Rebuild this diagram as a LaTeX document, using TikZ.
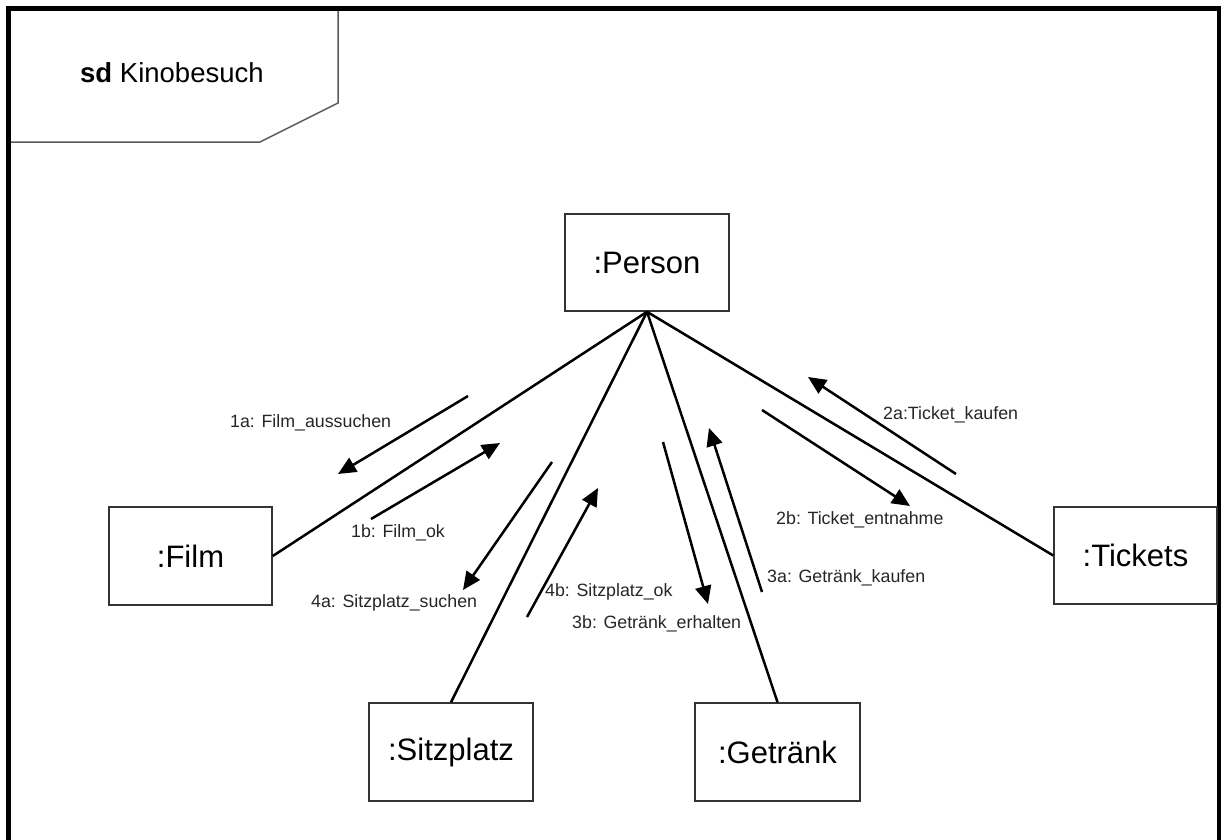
\documentclass[tikz,border=0pt]{standalone}
\usepackage{fontspec}
\setmainfont{Liberation Sans}
\usetikzlibrary{arrows.meta}
\begin{document}
\begin{tikzpicture}[x=1pt,y=-1pt,
  obj/.style={draw=black!80, line width=1.6pt, fill=white, inner sep=0pt,
    font=\fontsize{31}{37}\selectfont},
  assoc/.style={line width=2.5pt, black},
  msg/.style={line width=2.5pt, black, -{Triangle[length=18pt,width=16pt]}},
  lbl/.style={anchor=west, inner sep=0pt, text=black!85,
    font=\fontsize{17.8}{21}\selectfont},
]
\useasboundingbox (0,0) rectangle (1221,839);
\begin{scope}
\clip (0,0) rectangle (1221,839);
% diagram frame and its name tag
\draw[line width=5pt] (8.5,8.5) rectangle (1219.5,860);
\draw[line width=1.5pt, black!65] (11,142) -- (260,142) -- (338,103) -- (338,11);
\node[anchor=west, inner sep=0pt, font=\fontsize{27.5}{32}\selectfont] (title) at (80,73) {\textbf{sd} Kinobesuch};

% lifeline objects
\node[obj, minimum width=164pt, minimum height=97pt] (person)    at (647,262.5) {:Person};
\node[obj, minimum width=163pt, minimum height=98pt] (film)      at (190.5,556) {:Film};
\node[obj, minimum width=163pt, minimum height=97pt] (tickets)   at (1135.5,555.5) {:Tickets};
\node[obj, minimum width=164pt, minimum height=98pt] (sitzplatz) at (451,752) {:Sitzplatz};
\node[obj, minimum width=165pt, minimum height=98pt] (getraenk)  at (777.5,752) {:Getränk};

% links
\draw[assoc] (person.south) -- (film.east);
\draw[assoc] (person.south) -- (sitzplatz.north);
\draw[assoc] (person.south) -- (getraenk.north);
\draw[assoc] (person.south) -- (tickets.west);

% message endpoints
\coordinate (m1a-s) at (468,396); \coordinate (m1a-e) at (338,474);
\coordinate (m1b-s) at (371,519); \coordinate (m1b-e) at (500,443);
\coordinate (m4a-s) at (552,462); \coordinate (m4a-e) at (463,590);
\coordinate (m4b-s) at (527,617); \coordinate (m4b-e) at (598,488);
\coordinate (m3b-s) at (663,442); \coordinate (m3b-e) at (708,604);
\coordinate (m3a-s) at (762,592); \coordinate (m3a-e) at (709,428);
\coordinate (m2a-s) at (956,474); \coordinate (m2a-e) at (808,377);
\coordinate (m2b-s) at (762,410); \coordinate (m2b-e) at (910,506);

% messages
\draw[msg] (m1a-s) -- (m1a-e);
\draw[msg] (m1b-s) -- (m1b-e);
\draw[msg] (m4a-s) -- (m4a-e);
\draw[msg] (m4b-s) -- (m4b-e);
\draw[msg] (m3b-s) -- (m3b-e);
\draw[msg] (m3a-s) -- (m3a-e);
\draw[msg] (m2a-s) -- (m2a-e);
\draw[msg] (m2b-s) -- (m2b-e);

% message labels
\node[lbl] (l1a) at (230,423) {1a: Film\_aussuchen};
\node[lbl] (l1b) at (351,533) {1b: Film\_ok};
\node[lbl] (l4a) at (311,603) {4a: Sitzplatz\_suchen};
\node[lbl] (l4b) at (545,592) {4b: Sitzplatz\_ok};
\node[lbl] (l3b) at (572,624) {3b: Getränk\_erhalten};
\node[lbl] (l3a) at (767,578) {3a: Getränk\_kaufen};
\node[lbl] (l2a) at (883,415) {2a:Ticket\_kaufen};
\node[lbl] (l2b) at (776,520) {2b: Ticket\_entnahme};
\end{scope}
\end{tikzpicture}
\end{document}
